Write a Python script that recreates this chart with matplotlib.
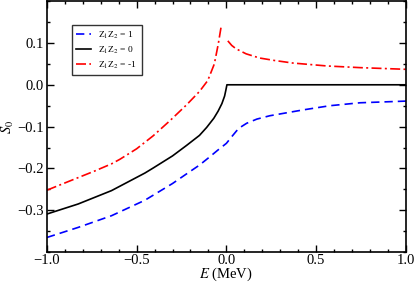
import matplotlib
matplotlib.use("Agg")
import matplotlib.pyplot as plt
from matplotlib.ticker import MultipleLocator

plt.rcParams["font.family"] = ["Liberation Serif", "DejaVu Serif"]
plt.rcParams["mathtext.fontset"] = "stix"

# Z1Z2 = 1 (blue, dashed)
blue_E = [-1.0, -0.826, -0.64, -0.454, -0.3, -0.222, -0.15, -0.092, -0.05, 0.0,
          0.03, 0.057, 0.08, 0.113, 0.17, 0.242, 0.428, 0.577, 0.745, 1.0]
blue_S = [-0.365, -0.341, -0.313, -0.276, -0.236, -0.213, -0.192, -0.172, -0.157,
          -0.140, -0.124, -0.110, -0.101, -0.092, -0.082, -0.074, -0.060, -0.050,
          -0.043, -0.039]

# Z1Z2 = 0 (black, solid)
black_E = [-1.0, -0.826, -0.64, -0.454, -0.408, -0.3, -0.222, -0.15, -0.11, -0.07,
           -0.046, -0.025, -0.01, -0.003, 0.003, 1.0]
black_S = [-0.309, -0.285, -0.253, -0.211, -0.199, -0.170, -0.145, -0.121, -0.102,
           -0.080, -0.063, -0.045, -0.027, -0.013, 0.0, 0.0]

# Z1Z2 = -1 (red, dash-dot), below and above threshold
red_E_neg = [-1.0, -0.867, -0.733, -0.64, -0.593, -0.5, -0.408, -0.315, -0.222,
             -0.15, -0.104, -0.067, -0.045, -0.03]
red_S_neg = [-0.252, -0.229, -0.206, -0.189, -0.178, -0.153, -0.122, -0.086, -0.048,
             -0.016, 0.010, 0.050, 0.098, 0.137]
red_E_pos = [0.008, 0.03, 0.054, 0.11, 0.185, 0.27, 0.37, 0.56, 0.745, 1.0]
red_S_pos = [0.105, 0.094, 0.086, 0.074, 0.064, 0.058, 0.052, 0.045, 0.041, 0.037]

labels = [r"Z$_1$Z$_2$ = 1", r"Z$_1$Z$_2$ = 0", r"Z$_1$Z$_2$ = -1"]

fig = plt.figure(figsize=(4.15, 2.82), dpi=100)
ax = fig.add_axes([0.113, 0.106, 0.865, 0.89])

ax.plot(blue_E, blue_S, color="#0000ff", lw=1.2, dashes=(5, 3), label=labels[0])
ax.plot(black_E, black_S, color="black", lw=1.2, label=labels[1])
ax.plot(red_E_neg, red_S_neg, color="#ff0000", lw=1.2, dashes=(6, 2, 1.2, 2),
        label=labels[2])
ax.plot(red_E_pos, red_S_pos, color="#ff0000", lw=1.2, dashes=(6, 2, 1.2, 2))

ax.set_xlim(-1.0, 1.0)
ax.set_ylim(-0.4, 0.2)
ax.set_xticks([-1.0, -0.5, 0.0, 0.5, 1.0])
ax.set_yticks([-0.3, -0.2, -0.1, 0.0, 0.1])
ax.xaxis.set_minor_locator(MultipleLocator(0.1))
ax.yaxis.set_minor_locator(MultipleLocator(0.05))
ax.tick_params(which="both", direction="in", top=True, right=True,
               labelsize=10.5, width=1)
ax.tick_params(axis="x", pad=1.5)
ax.tick_params(axis="y", pad=2)
ax.tick_params(which="major", length=5)
ax.tick_params(which="minor", length=2.5)
for s in ax.spines.values():
    s.set_linewidth(1.2)

ax.set_xlabel(r"$E$ (MeV)", fontsize=10.5, labelpad=-1)
ax.set_ylabel(r"$S_0$", fontsize=10.5, labelpad=1)

leg = ax.legend(loc="upper left", bbox_to_anchor=(0.07, 0.904), borderaxespad=0,
                fontsize=6.8, frameon=True, fancybox=False, handlelength=1.6,
                handletextpad=0.75, borderpad=0.45, labelspacing=0.4)
leg.get_frame().set_edgecolor("black")
leg.get_frame().set_linewidth(1.0)

plt.savefig("out.png", dpi=100)
